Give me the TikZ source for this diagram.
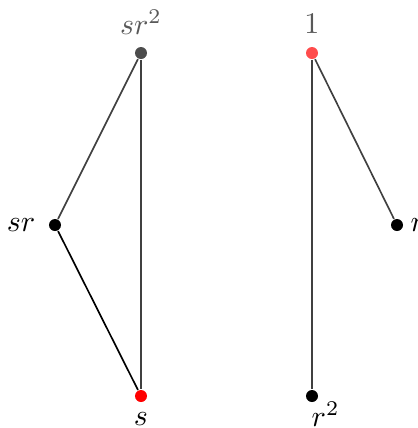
\documentclass[tikz,border=0pt]{standalone}
\usetikzlibrary{positioning}
\tikzset{
  vert/.style={circle, fill=black, inner sep=0pt, minimum size=4pt},
  lbl/.style={inner sep=1pt},
}
\begin{document}
\begin{tikzpicture}[x=0.3333pt, y=-0.3333pt, line width=0.55pt]
\useasboundingbox (0,0) rectangle (417,428);
\node[vert, fill=black!70] (sr2) at (141,53) {};
\node[vert, fill=red!70] (one) at (312,53) {};
\node[vert] (sr) at (55,225) {};
\node[vert] (r) at (397,225) {};
\node[vert, fill=red] (s) at (141,396) {};
\node[vert] (r2) at (312,396) {};
\node[lbl, text=black!65, above=2.5pt of sr2] (lsr2) {$sr^2$};
\node[lbl, text=black!65, above=3pt of one] (lone) {$1$};
\node[lbl, left=3pt of sr] (lsr) {$sr$};
\node[lbl, right=1pt of r] (lr) {$r$};
\node[lbl, below=2pt of s] (ls) {$s$};
\node[lbl, below right=-1pt and -3pt of r2] (lr2) {$r^2$};
\draw[black!75] (sr2) -- (sr);
\draw[black!75] (sr2) -- (s);
\draw (sr) -- (s);
\draw[black!75] (one) -- (r);
\draw[black!75] (one) -- (r2);
\end{tikzpicture}
\end{document}
